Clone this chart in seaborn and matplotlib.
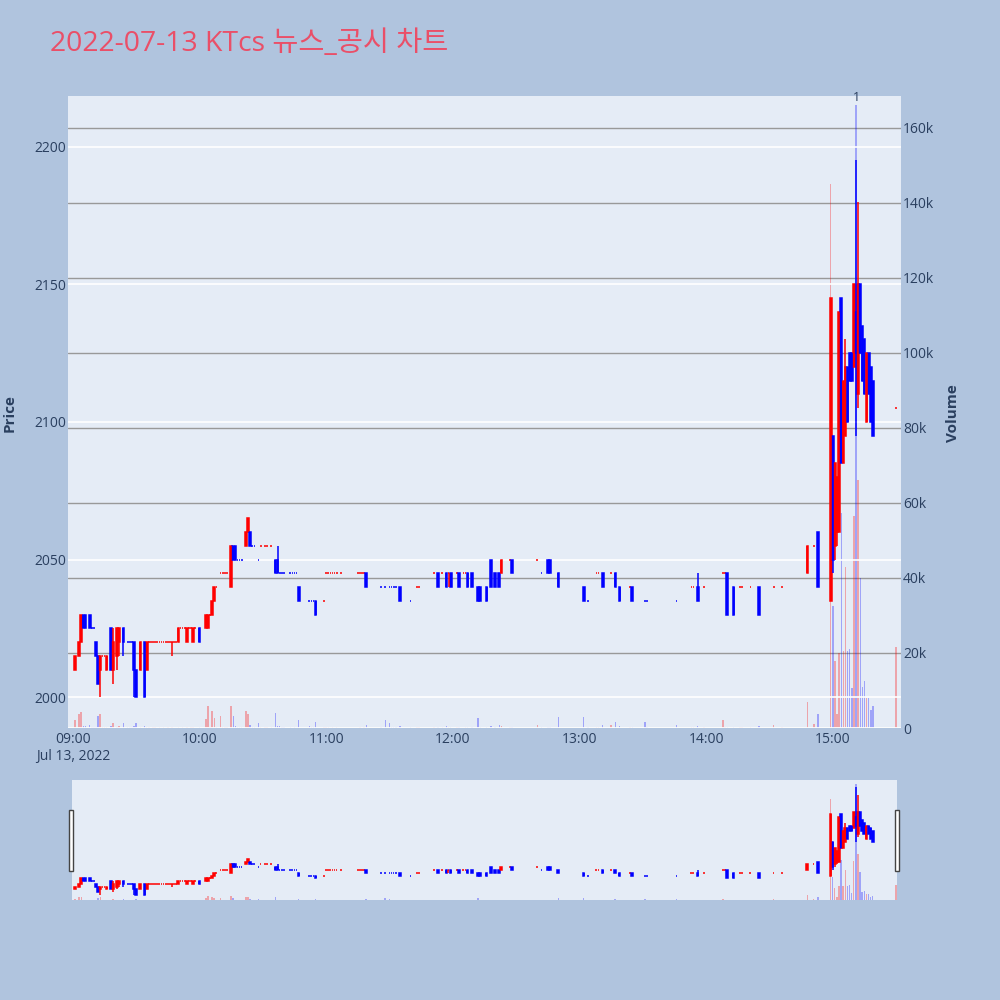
import pandas as pd
import matplotlib
matplotlib.use("Agg")
import matplotlib.pyplot as plt
import seaborn as sns
from matplotlib.patches import Rectangle


# minute-candles, minutes after 09:00
minute = [1, 3, 4, 5, 6, 8, 9, 10, 11, 12, 13, 14, 15, 16, 18, 19, 21, 22, 24, 26, 27, 28, 29, 30, 32, 34, 35,
          36, 37, 38, 39, 40, 41, 42, 43, 44, 45, 46, 47, 48, 49, 50, 51, 52, 53, 54, 55, 56, 57, 58, 60,
          63, 64, 65, 66, 67, 68, 70, 71, 72, 73, 75, 76, 77, 78, 79, 80, 82, 83, 84, 85, 86,
          88, 89, 91, 92, 94, 96, 97, 98, 99, 100, 103, 104, 105, 106, 107, 112, 113, 114, 115, 119,
          120, 121, 122, 123, 124, 125, 127, 135, 136, 137, 138, 139, 146, 148, 150, 151, 152, 153,
          155, 160, 163, 164, 171, 173, 175, 177, 178, 179, 182, 183, 185, 186, 187, 189,
          192, 193, 196, 198, 200, 202, 203, 207, 208, 220, 222, 225, 226, 230,
          242, 244, 248, 249, 251, 255, 257, 259, 264, 265, 271, 272, 286, 293, 294, 296, 299,
          308, 309, 310, 313, 316, 317, 321, 325, 332, 336, 348, 351, 353,
          359, 360, 361, 362, 363, 364, 365, 366, 367, 368, 369, 370, 371, 372, 373, 374, 375, 376,
          377, 378, 379, 390]

opens = [2010, 2015, 2020, 2030, 2030, 2030, 2025, 2025, 2020, 2015, 2010, 2015, 2015, 2010, 2025, 2010, 2015,
         2020, 2025, 2020, 2020, 2020, 2020, 2010, 2010, 2020, 2010,
         2020, 2020, 2020, 2020, 2020, 2020, 2020, 2020, 2020, 2020, 2020, 2020, 2020, 2020, 2020, 2025,
         2025, 2025, 2020, 2025, 2025, 2020, 2025, 2025,
         2025, 2025, 2030, 2030, 2035, 2040, 2045, 2045, 2045, 2045, 2040, 2055, 2055, 2050, 2050, 2050,
         2055, 2060, 2060, 2055, 2055,
         2050, 2055, 2055, 2055, 2055, 2050, 2050, 2045, 2045, 2045, 2045, 2045, 2045, 2045, 2040,
         2035, 2035, 2035, 2035, 2035,
         2045, 2045, 2045, 2045, 2045, 2045, 2045, 2045, 2045, 2045, 2045, 2045, 2040, 2040, 2040, 2040,
         2040, 2040,
         2040, 2035, 2040, 2040, 2045, 2045, 2045, 2045, 2045, 2045, 2045, 2045, 2045, 2045, 2045, 2045,
         2040, 2040, 2040, 2050, 2045, 2045, 2045, 2050, 2050, 2050, 2045, 2050, 2050, 2045,
         2040, 2035, 2045, 2045, 2045, 2045, 2045, 2040, 2040, 2040, 2035, 2035, 2035, 2040, 2040, 2040, 2040,
         2045, 2045, 2045, 2040, 2040, 2040, 2040, 2040, 2040, 2040, 2045, 2055, 2060,
         2035, 2095, 2055, 2060, 2060, 2145, 2085, 2095, 2120, 2125, 2125, 2120, 2140, 2110, 2150, 2135,
         2130, 2100, 2125, 2120, 2115, 2105]

highs = [2015, 2020, 2030, 2030, 2030, 2030, 2025, 2025, 2020, 2015, 2015, 2015, 2015, 2015, 2025, 2025, 2025,
         2025, 2025, 2020, 2020, 2020, 2020, 2010, 2020, 2020, 2020,
         2020, 2020, 2020, 2020, 2020, 2020, 2020, 2020, 2020, 2020, 2020, 2020, 2020, 2020, 2025, 2025,
         2025, 2025, 2025, 2025, 2025, 2025, 2025, 2025,
         2030, 2030, 2030, 2035, 2040, 2040, 2045, 2045, 2045, 2045, 2055, 2055, 2055, 2050, 2050, 2050,
         2060, 2065, 2060, 2055, 2055,
         2050, 2055, 2055, 2055, 2055, 2050, 2055, 2045, 2045, 2045, 2045, 2045, 2045, 2045, 2040,
         2035, 2035, 2035, 2035, 2035,
         2045, 2045, 2045, 2045, 2045, 2045, 2045, 2045, 2045, 2045, 2045, 2045, 2040, 2040, 2040, 2040,
         2040, 2040,
         2040, 2035, 2040, 2040, 2045, 2045, 2045, 2045, 2045, 2045, 2045, 2045, 2045, 2045, 2045, 2045,
         2040, 2040, 2040, 2050, 2045, 2045, 2050, 2050, 2050, 2050, 2045, 2050, 2050, 2045,
         2040, 2035, 2045, 2045, 2045, 2045, 2045, 2040, 2040, 2040, 2035, 2035, 2035, 2040, 2040, 2045, 2040,
         2045, 2045, 2045, 2040, 2040, 2040, 2040, 2040, 2040, 2040, 2055, 2055, 2060,
         2145, 2095, 2085, 2080, 2140, 2145, 2115, 2130, 2120, 2125, 2125, 2150, 2195, 2180, 2150, 2135,
         2130, 2125, 2125, 2120, 2115, 2105]

lows = [2010, 2015, 2020, 2025, 2025, 2025, 2025, 2025, 2015, 2005, 2000, 2015, 2015, 2010, 2010, 2005, 2010,
        2015, 2015, 2020, 2020, 2020, 2000, 2000, 2010, 2000, 2010,
        2020, 2020, 2020, 2020, 2020, 2020, 2020, 2020, 2020, 2020, 2020, 2015, 2020, 2020, 2020, 2025,
        2025, 2025, 2020, 2025, 2025, 2020, 2025, 2020,
        2025, 2025, 2030, 2030, 2035, 2040, 2045, 2045, 2045, 2045, 2040, 2050, 2050, 2050, 2050, 2050,
        2055, 2060, 2055, 2055, 2055,
        2050, 2055, 2055, 2055, 2055, 2045, 2045, 2045, 2045, 2045, 2045, 2045, 2045, 2045, 2035,
        2035, 2035, 2035, 2030, 2035,
        2045, 2045, 2045, 2045, 2045, 2045, 2045, 2045, 2045, 2045, 2045, 2040, 2040, 2040, 2040, 2040,
        2040, 2040,
        2035, 2035, 2040, 2040, 2045, 2040, 2045, 2040, 2040, 2040, 2045, 2040, 2045, 2045, 2040, 2040,
        2035, 2035, 2035, 2040, 2040, 2040, 2045, 2050, 2045, 2050, 2045, 2045, 2045, 2040,
        2035, 2035, 2045, 2045, 2040, 2045, 2040, 2035, 2040, 2035, 2035, 2035, 2035, 2040, 2040, 2035, 2040,
        2045, 2045, 2030, 2030, 2040, 2040, 2040, 2030, 2040, 2040, 2045, 2055, 2040,
        2035, 2045, 2050, 2055, 2060, 2085, 2085, 2095, 2100, 2115, 2115, 2120, 2095, 2105, 2125, 2115,
        2110, 2100, 2110, 2100, 2095, 2105]

closes = [2015, 2020, 2030, 2025, 2025, 2025, 2025, 2025, 2015, 2005, 2015, 2015, 2015, 2015, 2010, 2020, 2025,
          2025, 2020, 2020, 2020, 2020, 2010, 2000, 2020, 2000, 2020,
          2020, 2020, 2020, 2020, 2020, 2020, 2020, 2020, 2020, 2020, 2020, 2020, 2020, 2020, 2025, 2025,
          2025, 2025, 2025, 2025, 2025, 2025, 2025, 2020,
          2030, 2030, 2030, 2035, 2040, 2040, 2045, 2045, 2045, 2045, 2055, 2050, 2050, 2050, 2050, 2050,
          2060, 2065, 2055, 2055, 2055,
          2050, 2055, 2055, 2055, 2055, 2045, 2045, 2045, 2045, 2045, 2045, 2045, 2045, 2045, 2035,
          2035, 2035, 2035, 2030, 2035,
          2045, 2045, 2045, 2045, 2045, 2045, 2045, 2045, 2045, 2045, 2045, 2040, 2040, 2040, 2040, 2040,
          2040, 2040,
          2035, 2035, 2040, 2040, 2045, 2040, 2045, 2040, 2045, 2040, 2045, 2040, 2045, 2045, 2040, 2040,
          2035, 2035, 2035, 2040, 2040, 2040, 2050, 2050, 2045, 2050, 2045, 2045, 2045, 2040,
          2035, 2035, 2045, 2045, 2040, 2045, 2040, 2035, 2040, 2035, 2035, 2035, 2035, 2040, 2040, 2035, 2040,
          2045, 2045, 2030, 2030, 2040, 2040, 2040, 2030, 2040, 2040, 2055, 2055, 2040,
          2145, 2050, 2085, 2080, 2140, 2085, 2115, 2120, 2100, 2115, 2115, 2150, 2125, 2150, 2125, 2115,
          2110, 2125, 2110, 2100, 2095, 2105]

volumes = [2000, 3700, 4300, 500, 400, 700, 200, 200, 300, 3100, 3600, 200, 200, 300, 500, 1200, 300,
           400, 1200, 200, 200, 200, 400, 1200, 300, 600, 300,
           150, 100, 200, 150, 100, 150, 100, 200, 100, 150, 100, 200, 100, 100, 300, 100,
           150, 100, 200, 100, 150, 300, 100, 300,
           2400, 5800, 200, 4600, 2700, 200, 3300, 200, 200, 300, 5800, 3100, 400, 200, 150, 150,
           4600, 3600, 900, 200, 150,
           1300, 200, 150, 200, 150, 4000, 400, 400, 150, 150, 150, 100, 150, 100, 2000,
           400, 150, 150, 1500, 300,
           200, 150, 100, 150, 100, 150, 100, 100, 150, 100, 200, 900, 300, 2200, 1300, 200,
           150, 150,
           400, 200, 200, 150, 200, 300, 150, 400, 200, 300, 150, 300, 100, 150, 300, 300,
           2700, 300, 300, 400, 300, 700, 500, 200, 300, 700, 200, 300, 200, 2800,
           3000, 200, 150, 200, 700, 700, 1500, 400, 200, 300, 1600, 200, 900, 300, 150, 500, 200,
           2000, 200, 300, 300, 200, 150, 200, 500, 900, 200, 7000, 1000, 3600,
           145000, 32400, 17800, 3600, 20000, 57300, 20400, 43000, 20400, 21000, 10700, 56600, 166000,
           66000, 40000, 11000, 12400, 8000, 8000, 4900, 5800, 21700]

tick_minutes = [0, 60, 120, 180, 240, 300, 360]
tick_labels = ["09:00\nJul 13, 2022", "10:00", "11:00", "12:00", "13:00", "14:00", "15:00"]
price_ticks = [2000, 2050, 2100, 2150, 2200]
volume_ticks = [0, 20000, 40000, 60000, 80000, 100000, 120000, 140000, 160000]
volume_labels = ["0", "20k", "40k", "60k", "80k", "100k", "120k", "140k", "160k"]
news_minute = 371
news_label = "1"


df = pd.DataFrame({"minute": minute, "open": opens, "high": highs, "low": lows,
                   "close": closes, "volume": volumes})

# candle direction, flat candles follow the previous close
direction = []
prev_c, prev_up = None, True
for o, c in zip(df["open"], df["close"]):
    if c != o:
        up = c > o
    elif prev_c is None or c == prev_c:
        up = prev_up
    else:
        up = c > prev_c
    direction.append("up" if up else "down")
    prev_c, prev_up = c, up
df["direction"] = direction

colors = {"up": "#ff0000", "down": "#0000ff"}
TEXT = "#2a3f5f"

sns.set_theme(style="darkgrid", rc={"axes.facecolor": "#e5ecf6", "figure.facecolor": "#b0c4de"})
plt.rcParams["font.family"] = ["Open Sans", "Noto Sans CJK KR", "DejaVu Sans"]

fig = plt.figure(figsize=(10, 10), dpi=100)


def draw(ax_vol, ax_px):
    sns.barplot(data=df, x="minute", y="volume", hue="direction", palette=colors,
                native_scale=True, dodge=False, width=0.7, alpha=0.3, saturation=1,
                errorbar=None, legend=False, linewidth=0, ax=ax_vol)
    col = df["direction"].map(colors)
    ax_px.vlines(df["minute"], df["low"], df["high"], colors=col, lw=1.1)
    body_lo = df[["open", "close"]].min(axis=1)
    body_h = (df["close"] - df["open"]).abs()
    ax_px.bar(df["minute"], body_h, bottom=body_lo, width=0.8, color=col,
              edgecolor=col, linewidth=1.1)
    ax_vol.set_xlabel("")
    ax_vol.set_ylabel("")
    ax_px.set_ylabel("")
    for a in (ax_vol, ax_px):
        for s in a.spines.values():
            s.set_visible(False)


#Main chart
ax_vol = fig.add_axes([0.068, 0.272, 0.833, 0.632])
ax_px = ax_vol.twinx()
draw(ax_vol, ax_px)

ax_vol.set_xlim(-2.27, 392.3)
ax_vol.set_ylim(0, 168400)
ax_px.set_ylim(1988.85, 2218.4)

ax_vol.set_xticks(tick_minutes, tick_labels)
ax_vol.yaxis.tick_right()
ax_vol.set_yticks(volume_ticks, volume_labels)
ax_px.yaxis.tick_left()
ax_px.set_yticks(price_ticks)
ax_vol.tick_params(axis="x", length=0, pad=3, labelsize=10, labelcolor=TEXT)
ax_vol.tick_params(axis="y", length=0, pad=1.5, labelsize=10, labelcolor=TEXT)
ax_px.tick_params(axis="y", length=0, pad=1, labelsize=10, labelcolor=TEXT)

ax_vol.grid(axis="x", visible=False)
ax_vol.grid(axis="y", color="#999999", lw=1.0)
ax_px.grid(axis="x", visible=False)
ax_px.grid(axis="y", color="white", lw=1.2)
ax_vol.axhline(0, color="white", lw=2)

ax_vol.text(news_minute, 167000, news_label, ha="center", va="baseline",
            fontsize=9, color=TEXT, clip_on=False)

#Range slider
sl_vol = fig.add_axes([0.072, 0.100, 0.825, 0.120])
sl_px = sl_vol.twinx()
draw(sl_vol, sl_px)
sl_vol.set_xlim(-0.38, 390.5)
sl_vol.set_ylim(0, 172000)
sl_px.set_ylim(1991, 2207)
for a in (sl_vol, sl_px):
    a.grid(False)
    a.set_xticks([])
    a.set_yticks([])

for x0 in (0.0693, 0.8953):
    fig.add_artist(Rectangle((x0, 0.1293), 0.004, 0.0607, transform=fig.transFigure,
                             facecolor="white", edgecolor="#444444", lw=1))

#Texts
fig.text(0.05, 0.949, "2022-07-13 KTcs 뉴스_공시 차트", fontsize=20.4, color="#ea4f68", va="baseline")
fig.text(0.010, 0.587, "Price", rotation=90, ha="center", va="center",
         fontsize=11, fontweight="bold", color=TEXT)
fig.text(0.953, 0.587, "Volume", rotation=90, ha="center", va="center",
         fontsize=11, fontweight="bold", color=TEXT)

fig.savefig("out.png", dpi=100, facecolor=fig.get_facecolor())
